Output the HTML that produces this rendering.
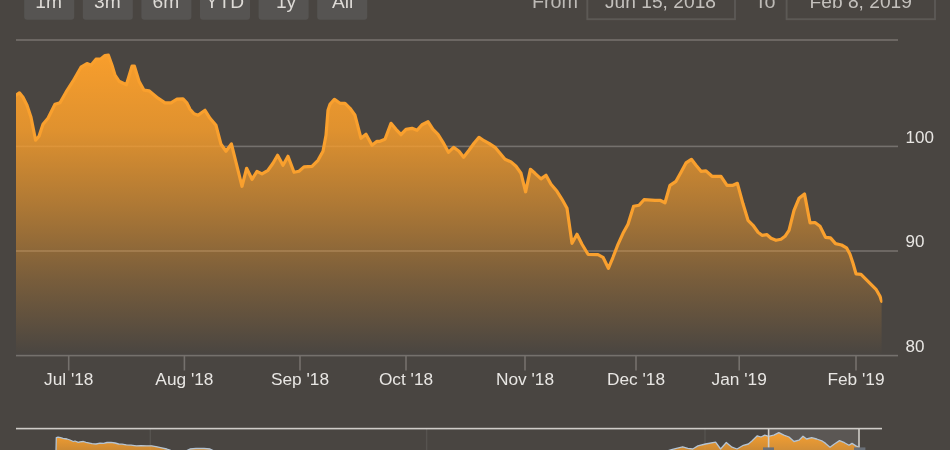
<!DOCTYPE html>
<html><head><meta charset="utf-8"><title>Chart</title>
<style>html,body{margin:0;padding:0;background:#494541;}body{width:950px;height:450px;position:relative;overflow:hidden;font-family:"Liberation Sans",sans-serif;}</style>
</head><body>
<svg width="950" height="450" viewBox="0 0 950 450" style="position:absolute;left:0;top:0">
<defs><linearGradient id="g" x1="0" y1="54" x2="0" y2="355" gradientUnits="userSpaceOnUse"><stop offset="0" stop-color="#f89e2c" stop-opacity="1"/><stop offset="0.25" stop-color="#f89e2c" stop-opacity="0.86"/><stop offset="0.5" stop-color="#f89e2c" stop-opacity="0.58"/><stop offset="0.75" stop-color="#f89e2c" stop-opacity="0.27"/><stop offset="1" stop-color="#f89e2c" stop-opacity="0"/></linearGradient><linearGradient id="ng" x1="0" y1="432" x2="0" y2="492" gradientUnits="userSpaceOnUse"><stop offset="0" stop-color="#f7a030" stop-opacity="1"/><stop offset="1" stop-color="#f7a030" stop-opacity="0.2"/></linearGradient></defs>
<rect width="950" height="450" fill="#494541"/>
<rect x="24.2" y="-10" width="50" height="29.8" rx="3" fill="#565452"/>
<rect x="82.8" y="-10" width="50" height="29.8" rx="3" fill="#565452"/>
<rect x="141.4" y="-10" width="50" height="29.8" rx="3" fill="#565452"/>
<rect x="200" y="-10" width="50" height="29.8" rx="3" fill="#565452"/>
<rect x="258.6" y="-10" width="50" height="29.8" rx="3" fill="#565452"/>
<rect x="317.2" y="-10" width="50" height="29.8" rx="3" fill="#565452"/>
<rect x="16" y="39.2" width="882" height="1.6" fill="#75716d"/>
<rect x="16" y="145.6" width="882" height="1.6" fill="#75716d"/>
<rect x="16" y="250.2" width="882" height="1.6" fill="#75716d"/>
<clipPath id="cp"><rect x="16" y="40" width="866.4" height="316"/></clipPath><g clip-path="url(#cp)">
<path d="M16 95.2 L19.4 92.8 L23 97.2 L27 105.2 L31 117.2 L35.6 140.2 L39 136.2 L43 124.2 L48 118.2 L55 104.2 L60 102.7 L66 92.2 L73 81.2 L81 67.2 L87 63.6 L91 65.2 L96 59.2 L101 58.8 L105 55.6 L108.4 55.2 L112 65.2 L115 75.2 L119 81.2 L126.4 84.8 L132 66.2 L134.4 66.2 L139 81.2 L144 90.2 L149 90.8 L158 98.2 L165 102.8 L171 102.8 L177 99.2 L183 98.8 L187 103.2 L190 109.2 L194 113.8 L198 115.2 L205 110.3 L210 118.3 L216 125.3 L221 144.3 L226 151.3 L231.4 143.9 L236 162.3 L242 186.3 L246.6 168.3 L252 179.3 L257 171.3 L262 173.9 L268 170.3 L273 163.3 L277.6 155.3 L283 165.3 L288 156.3 L294 172.3 L299 171.3 L304 166.9 L312 166.3 L318 160.3 L323 151.3 L326 135.3 L328 110.3 L330 104.3 L334.4 99.3 L340 103.3 L345 103.3 L350 108.3 L355 115.3 L361 138.3 L366 134.3 L372 145.3 L377 141.3 L380 141.3 L385 139.3 L391 123.3 L396 129.3 L401 134.7 L406 129.3 L412 128.3 L417 130.3 L422 124.7 L428 121.7 L433 129.3 L438 134.3 L443 142.3 L448.4 152.3 L453.6 147.3 L459 151.3 L463.6 157.3 L469 150.3 L474 143.3 L479 137.3 L484 140.7 L489 143.3 L495 147.3 L500 153.3 L505 159.3 L511 161.9 L516 166.3 L521 173.3 L525.6 191.8 L530.4 169.3 L535 173.3 L541 178.9 L546 175.3 L551 184.3 L557 191.3 L562 199.3 L567 208.3 L572 243.3 L577 234.3 L582 244.3 L588 254.3 L598 254.7 L603 257.3 L608.4 268.3 L613 257.3 L618 244.3 L623 233.3 L628 224.3 L633.6 206.3 L639 205.3 L644 199.7 L655 200.3 L660 200.3 L665 202.8 L670 185.3 L676 181.3 L681 172.3 L686 162.9 L691.4 159.3 L696 165.3 L701 171.3 L706 170.9 L712 176.3 L721 176.3 L727 185.3 L733 185.3 L737.4 183.3 L743 203.8 L748 220.3 L753 225.3 L758 232.3 L762 235.3 L767 234.7 L771 238.3 L776 240.3 L781 239.3 L785 236.3 L789 230.3 L794 210.3 L799 198.3 L804.5 193.9 L810 222.8 L815 222.5 L820 226.3 L825.5 237.3 L830.5 237.9 L835.5 243.6 L841.5 245 L846.5 247.8 L850 254.3 L853 263.3 L856 273.8 L861 274.3 L866 279.3 L871 284.3 L876 289.3 L880 296.3 L881.6 301.3 L881.6 355.3 L16 355.3 Z" fill="url(#g)"/>
<path d="M16 95.2 L19.4 92.8 L23 97.2 L27 105.2 L31 117.2 L35.6 140.2 L39 136.2 L43 124.2 L48 118.2 L55 104.2 L60 102.7 L66 92.2 L73 81.2 L81 67.2 L87 63.6 L91 65.2 L96 59.2 L101 58.8 L105 55.6 L108.4 55.2 L112 65.2 L115 75.2 L119 81.2 L126.4 84.8 L132 66.2 L134.4 66.2 L139 81.2 L144 90.2 L149 90.8 L158 98.2 L165 102.8 L171 102.8 L177 99.2 L183 98.8 L187 103.2 L190 109.2 L194 113.8 L198 115.2 L205 110.3 L210 118.3 L216 125.3 L221 144.3 L226 151.3 L231.4 143.9 L236 162.3 L242 186.3 L246.6 168.3 L252 179.3 L257 171.3 L262 173.9 L268 170.3 L273 163.3 L277.6 155.3 L283 165.3 L288 156.3 L294 172.3 L299 171.3 L304 166.9 L312 166.3 L318 160.3 L323 151.3 L326 135.3 L328 110.3 L330 104.3 L334.4 99.3 L340 103.3 L345 103.3 L350 108.3 L355 115.3 L361 138.3 L366 134.3 L372 145.3 L377 141.3 L380 141.3 L385 139.3 L391 123.3 L396 129.3 L401 134.7 L406 129.3 L412 128.3 L417 130.3 L422 124.7 L428 121.7 L433 129.3 L438 134.3 L443 142.3 L448.4 152.3 L453.6 147.3 L459 151.3 L463.6 157.3 L469 150.3 L474 143.3 L479 137.3 L484 140.7 L489 143.3 L495 147.3 L500 153.3 L505 159.3 L511 161.9 L516 166.3 L521 173.3 L525.6 191.8 L530.4 169.3 L535 173.3 L541 178.9 L546 175.3 L551 184.3 L557 191.3 L562 199.3 L567 208.3 L572 243.3 L577 234.3 L582 244.3 L588 254.3 L598 254.7 L603 257.3 L608.4 268.3 L613 257.3 L618 244.3 L623 233.3 L628 224.3 L633.6 206.3 L639 205.3 L644 199.7 L655 200.3 L660 200.3 L665 202.8 L670 185.3 L676 181.3 L681 172.3 L686 162.9 L691.4 159.3 L696 165.3 L701 171.3 L706 170.9 L712 176.3 L721 176.3 L727 185.3 L733 185.3 L737.4 183.3 L743 203.8 L748 220.3 L753 225.3 L758 232.3 L762 235.3 L767 234.7 L771 238.3 L776 240.3 L781 239.3 L785 236.3 L789 230.3 L794 210.3 L799 198.3 L804.5 193.9 L810 222.8 L815 222.5 L820 226.3 L825.5 237.3 L830.5 237.9 L835.5 243.6 L841.5 245 L846.5 247.8 L850 254.3 L853 263.3 L856 273.8 L861 274.3 L866 279.3 L871 284.3 L876 289.3 L880 296.3 L881.6 301.3" fill="none" stroke="#f9a02e" stroke-width="3.2" stroke-linejoin="round" stroke-linecap="round"/></g>
<rect x="16" y="354.8" width="882" height="1.6" fill="#75716d"/>
<rect x="67.9" y="355" width="1.6" height="15.5" fill="#75716d"/>
<rect x="183.6" y="355" width="1.6" height="15.5" fill="#75716d"/>
<rect x="299.2" y="355" width="1.6" height="15.5" fill="#75716d"/>
<rect x="405.2" y="355" width="1.6" height="15.5" fill="#75716d"/>
<rect x="524.2" y="355" width="1.6" height="15.5" fill="#75716d"/>
<rect x="635.2" y="355" width="1.6" height="15.5" fill="#75716d"/>
<rect x="738.4000000000001" y="355" width="1.6" height="15.5" fill="#75716d"/>
<rect x="855.2" y="355" width="1.6" height="15.5" fill="#75716d"/>
<rect x="587.3" y="-10" width="147.7" height="29.2" fill="none" stroke="#5c5955" stroke-width="1.9"/>
<rect x="786.6" y="-10" width="148.4" height="29.2" fill="none" stroke="#5c5955" stroke-width="1.9"/>
<rect x="149.60000000000002" y="429" width="1.4" height="22" fill="#56534f"/>
<rect x="425.90000000000003" y="429" width="1.4" height="22" fill="#56534f"/>
<rect x="704.3" y="429" width="1.4" height="22" fill="#56534f"/>
<rect x="768.6" y="429" width="90.6" height="22" fill="#ffffff" fill-opacity="0.1"/>
<path d="M56 451 L56.3 437.6 L58 437.2 L60.6 437.7 L63 438.4 L67 439 L70 440 L73.3 441.5 L75 441 L78.3 442.3 L80 441.8 L83.4 441.5 L86 442.3 L88.4 442.8 L92 443.6 L96 444 L100 443.2 L103.6 443.3 L107 442.5 L111 442.3 L115 443 L118.7 444 L122 444.2 L126.3 444.8 L131 445.2 L136.4 445.8 L141 445.6 L146.5 445.8 L151.6 445.8 L156 446.6 L161.7 447.8 L166.7 449 L170 450.2 L173 451.5 L173 452 L56 452 Z" fill="url(#ng)"/>
<path d="M56 451 L56.3 437.6 L58 437.2 L60.6 437.7 L63 438.4 L67 439 L70 440 L73.3 441.5 L75 441 L78.3 442.3 L80 441.8 L83.4 441.5 L86 442.3 L88.4 442.8 L92 443.6 L96 444 L100 443.2 L103.6 443.3 L107 442.5 L111 442.3 L115 443 L118.7 444 L122 444.2 L126.3 444.8 L131 445.2 L136.4 445.8 L141 445.6 L146.5 445.8 L151.6 445.8 L156 446.6 L161.7 447.8 L166.7 449 L170 450.2 L173 451.5" fill="none" stroke="#b4c4d4" stroke-width="1.3" stroke-linejoin="round"/>
<path d="M186 451 L190 449 L196 448.5 L204 448.5 L210 449 L214 451 L214 452 L186 452 Z" fill="url(#ng)"/>
<path d="M186 451 L190 449 L196 448.5 L204 448.5 L210 449 L214 451" fill="none" stroke="#b4c4d4" stroke-width="1.3" stroke-linejoin="round"/>
<path d="M666 451.5 L669 450.4 L672.5 449.4 L676.4 448.4 L682.7 446.8 L687.8 448.4 L692.8 449 L697.9 445.9 L705.5 444 L715.6 442.1 L720.6 449 L726.3 442.5 L732 447.2 L737 449 L743.4 445.3 L748.4 444 L752.2 440.8 L757.3 435.8 L761 437 L764.8 435.2 L768.6 436.4 L773.8 435.2 L778.8 432.6 L783.9 435.2 L789 437 L794 441.5 L799 440.2 L803 436.2 L806.6 439 L811.7 437.7 L816.7 439 L821.8 440.8 L825.6 443.4 L830 447.2 L834.4 444 L839.5 440.6 L844.5 442.7 L849 445.3 L852 443.4 L855.9 445.9 L858.6 447.2 L858.6 452 L666 452 Z" fill="url(#ng)"/>
<path d="M666 451.5 L669 450.4 L672.5 449.4 L676.4 448.4 L682.7 446.8 L687.8 448.4 L692.8 449 L697.9 445.9 L705.5 444 L715.6 442.1 L720.6 449 L726.3 442.5 L732 447.2 L737 449 L743.4 445.3 L748.4 444 L752.2 440.8 L757.3 435.8 L761 437 L764.8 435.2 L768.6 436.4 L773.8 435.2 L778.8 432.6 L783.9 435.2 L789 437 L794 441.5 L799 440.2 L803 436.2 L806.6 439 L811.7 437.7 L816.7 439 L821.8 440.8 L825.6 443.4 L830 447.2 L834.4 444 L839.5 440.6 L844.5 442.7 L849 445.3 L852 443.4 L855.9 445.9 L858.6 447.2" fill="none" stroke="#b4c4d4" stroke-width="1.3" stroke-linejoin="round"/>
<rect x="16" y="427.8" width="866" height="1.6" fill="#cfccc8"/>
<rect x="767.8" y="428" width="1.6" height="23" fill="#cfccc8"/>
<rect x="858.2" y="428" width="1.6" height="23" fill="#cfccc8"/>
<rect x="763" y="447.4" width="11" height="6" fill="#6a7078"/>
<rect x="854" y="447.4" width="11.4" height="6" fill="#6a7078"/>
<text x="48.7" y="8" text-anchor="middle" font-family="Liberation Sans, sans-serif" font-size="19.2" fill="#dddad6">1m</text>
<text x="107.3" y="8" text-anchor="middle" font-family="Liberation Sans, sans-serif" font-size="19.2" fill="#dddad6">3m</text>
<text x="165.9" y="8" text-anchor="middle" font-family="Liberation Sans, sans-serif" font-size="19.2" fill="#dddad6">6m</text>
<text x="224.8" y="8" text-anchor="middle" font-family="Liberation Sans, sans-serif" font-size="19.2" fill="#dddad6">YTD</text>
<text x="286.1" y="8" text-anchor="middle" font-family="Liberation Sans, sans-serif" font-size="19.2" fill="#dddad6">1y</text>
<text x="342.7" y="8" text-anchor="middle" font-family="Liberation Sans, sans-serif" font-size="19.2" fill="#dddad6">All</text>
<text x="555" y="8" text-anchor="middle" font-family="Liberation Sans, sans-serif" font-size="19.8" fill="#bdbab6">From</text>
<text x="765.2" y="8" text-anchor="middle" font-family="Liberation Sans, sans-serif" font-size="19.8" fill="#bdbab6">To</text>
<text x="660.5" y="8" text-anchor="middle" font-family="Liberation Sans, sans-serif" font-size="19.2" fill="#c4c1bd">Jun 15, 2018</text>
<text x="860.7" y="8" text-anchor="middle" font-family="Liberation Sans, sans-serif" font-size="19.2" fill="#c4c1bd">Feb 8, 2019</text>
<text x="68.7" y="385.2" text-anchor="middle" font-family="Liberation Sans, sans-serif" font-size="17.3" fill="#e8e6e3">Jul &#39;18</text>
<text x="184.4" y="385.2" text-anchor="middle" font-family="Liberation Sans, sans-serif" font-size="17.3" fill="#e8e6e3">Aug &#39;18</text>
<text x="300" y="385.2" text-anchor="middle" font-family="Liberation Sans, sans-serif" font-size="17.3" fill="#e8e6e3">Sep &#39;18</text>
<text x="406" y="385.2" text-anchor="middle" font-family="Liberation Sans, sans-serif" font-size="17.3" fill="#e8e6e3">Oct &#39;18</text>
<text x="525" y="385.2" text-anchor="middle" font-family="Liberation Sans, sans-serif" font-size="17.3" fill="#e8e6e3">Nov &#39;18</text>
<text x="636" y="385.2" text-anchor="middle" font-family="Liberation Sans, sans-serif" font-size="17.3" fill="#e8e6e3">Dec &#39;18</text>
<text x="739.2" y="385.2" text-anchor="middle" font-family="Liberation Sans, sans-serif" font-size="17.3" fill="#e8e6e3">Jan &#39;19</text>
<text x="856" y="385.2" text-anchor="middle" font-family="Liberation Sans, sans-serif" font-size="17.3" fill="#e8e6e3">Feb &#39;19</text>
<text x="905.5" y="142.70000000000002" font-family="Liberation Sans, sans-serif" font-size="17" fill="#e8e6e3">100</text>
<text x="905.5" y="247.3" font-family="Liberation Sans, sans-serif" font-size="17" fill="#e8e6e3">90</text>
<text x="905.5" y="351.6" font-family="Liberation Sans, sans-serif" font-size="17" fill="#e8e6e3">80</text>
</svg>
</body></html>
